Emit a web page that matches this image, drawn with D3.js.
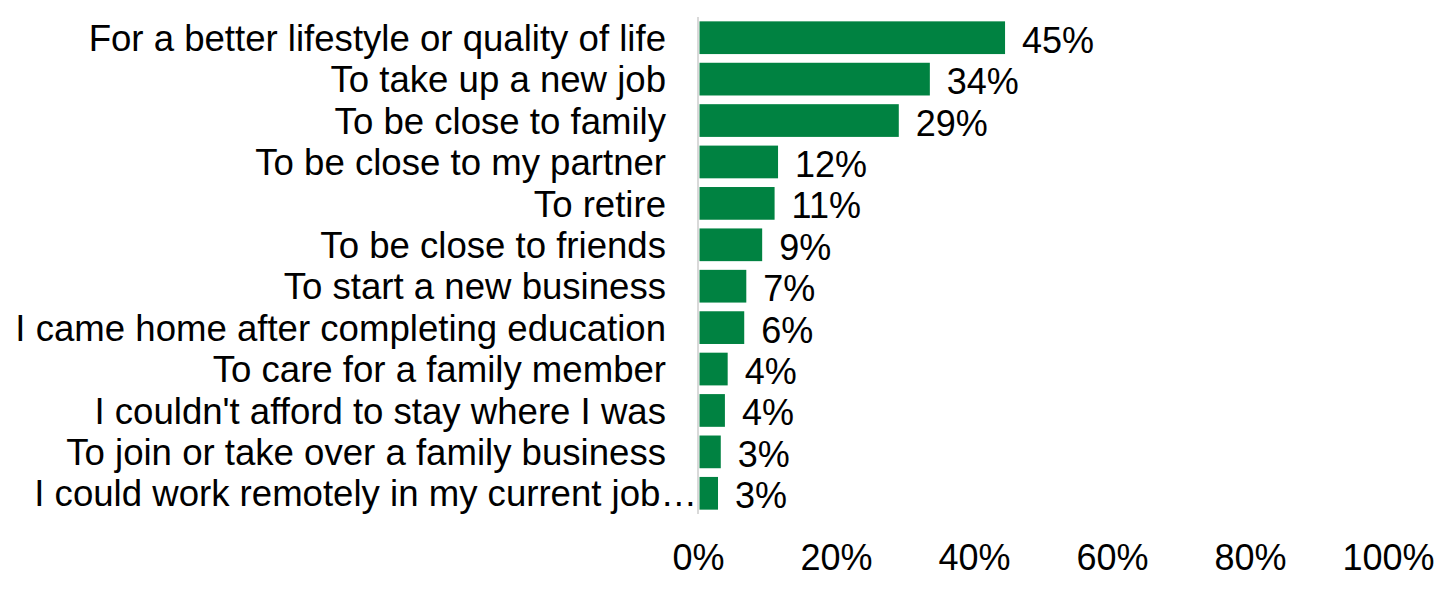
<!DOCTYPE html>
<html><head><meta charset="utf-8">
<script src="https://cdn.jsdelivr.net/npm/d3@7"></script>
<style>body{margin:0;background:#fff}svg{display:block}text{font-family:"Liberation Sans",Arial,sans-serif;fill:#000}</style>
</head><body><svg id="c" width="1452" height="590"></svg>
<script>
const categories = [
  "For a better lifestyle or quality of life",
  "To take up a new job",
  "To be close to family",
  "To be close to my partner",
  "To retire",
  "To be close to friends",
  "To start a new business",
  "I came home after completing education",
  "To care for a family member",
  "I couldn't afford to stay where I was",
  "To join or take over a family business",
  "I could work remotely in my current job…"
];
const values = [44.5, 33.6, 29.1, 11.6, 11.1, 9.3, 7.0, 6.7, 4.3, 3.9, 3.3, 2.9];
const valueLabels = ["45%","34%","29%","12%","11%","9%","7%","6%","4%","4%","3%","3%"];
const tickValues = [0, 20, 40, 60, 80, 100];
const tickLabels = ["0%","20%","40%","60%","80%","100%"];

const svg = d3.select("#c");
const x = d3.scaleLinear().domain([0, 100]).range([698, 1388]);
const y = d3.scaleBand().domain(categories).range([17, 514]).paddingInner(0.21).paddingOuter(0.105);
const fs = 36;
const fsCat = 36.6;

svg.selectAll("rect.bar").data(values).join("rect")
  .attr("class","bar")
  .attr("x", x(0) + 1.5)
  .attr("y", (d,i) => y(categories[i]))
  .attr("width", d => x(d) - x(0) - 1.5)
  .attr("height", y.bandwidth())
  .attr("fill", "#008241");

svg.append("line").attr("x1", x(0)).attr("x2", x(0)).attr("y1", 17).attr("y2", 514)
  .attr("stroke", "#d9d9d9").attr("stroke-width", 2);

svg.selectAll("text.cat").data(categories).join("text")
  .attr("class","cat")
  .attr("x", d => d.endsWith("…") ? 697 : 666)
  .attr("y", d => y(d) + y.bandwidth()/2)
  .attr("dy", "0.36em")
  .attr("text-anchor", "end")
  .attr("font-size", fsCat)
  .text(d => d);

svg.selectAll("text.val").data(values).join("text")
  .attr("class","val")
  .attr("x", d => x(d) + 17)
  .attr("y", (d,i) => y(categories[i]) + y.bandwidth()/2 + 2)
  .attr("dy", "0.36em")
  .attr("font-size", fs)
  .text((d,i) => valueLabels[i]);

const axis = d3.axisBottom(x).tickValues(tickValues).tickFormat((d,i) => tickLabels[i]).tickSize(0).tickPadding(0);
const g = svg.append("g").attr("transform", "translate(0,544)").call(axis);
g.select(".domain").remove();
g.selectAll("text").attr("font-size", fs).attr("font-family", "Liberation Sans, Arial, sans-serif").attr("fill", "#000");
</script></body></html>
